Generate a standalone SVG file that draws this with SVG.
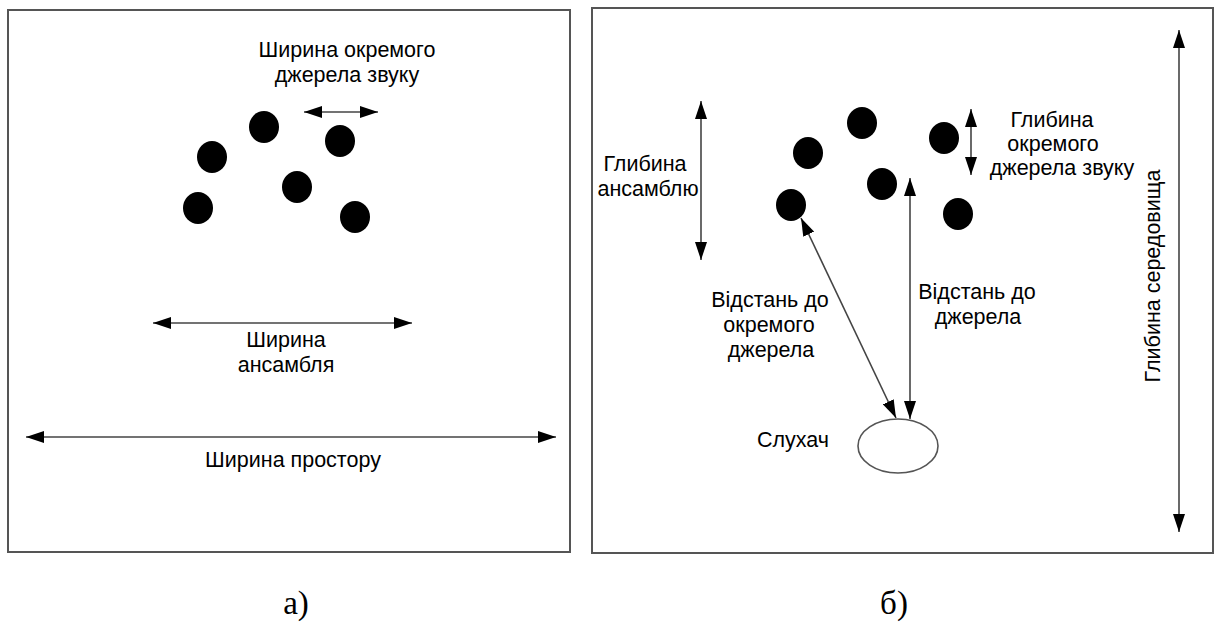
<svg xmlns="http://www.w3.org/2000/svg" width="1221" height="625" viewBox="0 0 1221 625">
<style>
.frame{fill:#fff;stroke:#555;stroke-width:2}
.src{fill:#000}
.ln{stroke:#444;stroke-width:1.6;fill:none;marker-start:url(#ah);marker-end:url(#ah)}
.lbl{font-family:"Liberation Sans",Arial,sans-serif;font-size:21.5px;fill:#000;text-anchor:middle}
.cap{font-family:"Liberation Serif","Times New Roman",serif;font-size:33px;fill:#000;text-anchor:middle}
.listener{fill:#fff;stroke:#555;stroke-width:1.6}
</style>
<defs>
<marker id="ah" markerUnits="userSpaceOnUse" markerWidth="18" markerHeight="12" refX="18" refY="6" orient="auto-start-reverse" viewBox="0 0 18 12">
<path d="M0,0 L18,6 L0,12 z" fill="#000"/>
</marker>
</defs>
<rect width="1221" height="625" fill="#fff"/>

<g id="panel-a">
<rect class="frame" x="8" y="10" width="562" height="542"/>
</g>
<g id="panel-b">
<rect class="frame" x="592" y="8" width="621" height="545"/>
</g>

<g id="sources-a">
<ellipse class="src" cx="264" cy="127" rx="15" ry="16"/>
<ellipse class="src" cx="212" cy="157" rx="15" ry="16"/>
<ellipse class="src" cx="340" cy="141" rx="15" ry="16"/>
<ellipse class="src" cx="297" cy="187" rx="15" ry="16"/>
<ellipse class="src" cx="198" cy="208" rx="15" ry="16"/>
<ellipse class="src" cx="355" cy="217" rx="15" ry="16"/>
</g>

<g id="sources-b">
<ellipse class="src" cx="862" cy="123" rx="15" ry="16"/>
<ellipse class="src" cx="808" cy="153" rx="15" ry="16"/>
<ellipse class="src" cx="944" cy="138" rx="15" ry="16"/>
<ellipse class="src" cx="882" cy="184" rx="15" ry="16"/>
<ellipse class="src" cx="791" cy="205" rx="15" ry="16"/>
<ellipse class="src" cx="958" cy="214" rx="15" ry="16"/>
</g>

<g id="listener">
<ellipse class="listener" cx="898" cy="446" rx="40" ry="27"/>
</g>

<g id="connectors">
<line class="ln" x1="304" y1="112" x2="378" y2="112"/>
<line class="ln" x1="153" y1="323" x2="412" y2="323"/>
<line class="ln" x1="26" y1="437" x2="556" y2="437"/>
<line class="ln" x1="701" y1="101" x2="701" y2="260"/>
<line class="ln" x1="971" y1="109" x2="971" y2="175"/>
<line class="ln" x1="1179" y1="30" x2="1179" y2="532"/>
<line class="ln" x1="910" y1="178" x2="910" y2="419"/>
<line class="ln" x1="801" y1="218" x2="896" y2="418"/>
</g>

<g id="labels">
<text class="lbl" x="347" y="57">Ширина окремого</text>
<text class="lbl" x="347" y="82">джерела звуку</text>
<text class="lbl" x="286" y="347">Ширина</text>
<text class="lbl" x="286" y="372">ансамбля</text>
<text class="lbl" x="293" y="467">Ширина простору</text>

<text class="lbl" x="645" y="171">Глибина</text>
<text class="lbl" x="648" y="196">ансамблю</text>

<text class="lbl" x="1052" y="127">Глибина</text>
<text class="lbl" x="1053" y="151">окремого</text>
<text class="lbl" x="1062" y="175">джерела звуку</text>

<text class="lbl" x="770" y="307">Відстань до</text>
<text class="lbl" x="769" y="332">окремого</text>
<text class="lbl" x="771" y="357">джерела</text>

<text class="lbl" x="977" y="299">Відстань до</text>
<text class="lbl" x="978" y="324">джерела</text>

<text class="lbl" x="793" y="447">Слухач</text>

<text class="lbl" transform="translate(1160,276) rotate(-90)" x="0" y="0">Глибина середовища</text>

<text class="cap" x="296" y="614">а)</text>
<text class="cap" x="894" y="614">б)</text>
</g>
</svg>
